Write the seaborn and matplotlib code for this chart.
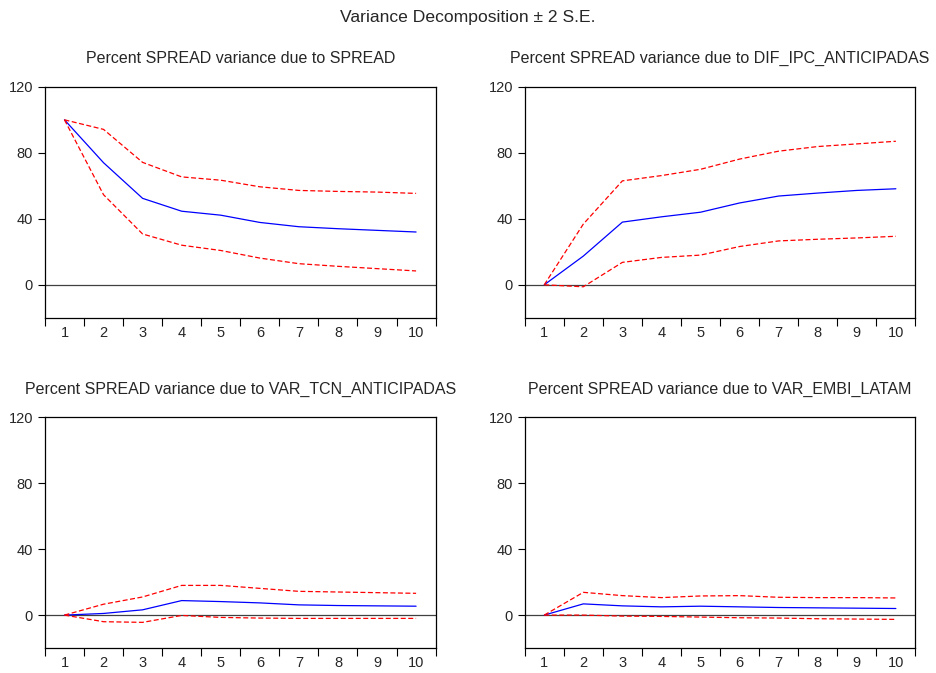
import pandas as pd
import numpy as np
import matplotlib.pyplot as plt
import seaborn as sns
from matplotlib.ticker import FixedLocator

periodos = list(range(1, 11))

titulos = ["Percent SPREAD variance due to SPREAD",
           "Percent SPREAD variance due to DIF_IPC_ANTICIPADAS",
           "Percent SPREAD variance due to VAR_TCN_ANTICIPADAS",
           "Percent SPREAD variance due to VAR_EMBI_LATAM"]

# estimacion central y bandas +/- 2 S.E.
spread_c = [100, 74, 52.4, 44.6, 42.2, 37.8, 35.2, 34, 33, 32]
spread_u = [100, 94.2, 74.2, 65.4, 63.4, 59.4, 57.2, 56.6, 56.2, 55.4]
spread_l = [100, 54.6, 30.8, 24, 20.8, 16.2, 12.8, 11.2, 9.8, 8.4]

ipc_c = [0, 17.4, 38, 41.2, 44, 49.6, 53.8, 55.6, 57.2, 58.2]
ipc_u = [0, 36.8, 63, 66.2, 70, 76.2, 81, 83.8, 85.4, 87]
ipc_l = [0, -1.2, 13.6, 16.6, 18, 23.2, 26.6, 27.6, 28.4, 29.4]

tcn_c = [0, 1, 3.2, 8.8, 8.2, 7.4, 6.2, 5.8, 5.6, 5.4]
tcn_u = [0, 6.6, 11, 18, 18, 16.2, 14.4, 14, 13.6, 13.2]
tcn_l = [0, -4, -4.4, -0.2, -1.4, -1.8, -2, -2, -2, -2]

embi_c = [0, 6.8, 5.6, 5, 5.4, 5, 4.6, 4.4, 4.2, 4]
embi_u = [0, 13.8, 11.8, 10.6, 11.6, 11.8, 10.8, 10.6, 10.6, 10.4]
embi_l = [0, 0, -0.6, -0.8, -1.2, -1.6, -1.8, -2.2, -2.4, -2.6]

series = [(spread_c, spread_u, spread_l),
          (ipc_c, ipc_u, ipc_l),
          (tcn_c, tcn_u, tcn_l),
          (embi_c, embi_u, embi_l)]

sns.set_style("white")
plt.rcParams['font.family'] = ['Liberation Sans', 'DejaVu Sans']

fig, axes = plt.subplots(2, 2, figsize=(9.36, 6.73), dpi=100)
fig.subplots_adjust(left=0.048, right=0.978, top=0.871, bottom=0.037,
                    wspace=0.228, hspace=0.43)

for ax, titulo, (c, u, l) in zip(axes.flat, titulos, series):
    df = pd.DataFrame({'Periodo': periodos * 3,
                       'Valor': c + u + l,
                       'Serie': ['c'] * 10 + ['u'] * 10 + ['l'] * 10})
    ax.axhline(0, color='#404040', linewidth=0.9, zorder=1)
    sns.lineplot(data=df, x='Periodo', y='Valor', hue='Serie', style='Serie',
                 palette={'c': '#0000ff', 'u': '#ff0000', 'l': '#ff0000'},
                 dashes={'c': '', 'u': (4, 2), 'l': (4, 2)},
                 linewidth=0.9, legend=False, ax=ax)
    ax.set_xlim(0.5, 10.5)
    ax.set_ylim(-20, 120)
    ax.set_yticks([0, 40, 80, 120])
    ax.set_xticks(periodos)
    ax.xaxis.set_minor_locator(FixedLocator(np.arange(0.5, 11, 1)))
    ax.tick_params(axis='x', which='major', length=0, pad=6, labelsize=10.5)
    ax.tick_params(axis='x', which='minor', length=6, width=0.8, direction='out', color='black', bottom=True)
    ax.tick_params(axis='y', which='major', length=5, width=0.8, direction='out', color='black', left=True, labelsize=10.5)
    ax.set_xlabel('')
    ax.set_ylabel('')
    for s in ax.spines.values():
        s.set_color('black')
        s.set_linewidth(0.9)
    ax.set_title(titulo, fontsize=11.5, pad=17)

fig.suptitle("Variance Decomposition ± 2 S.E.", fontsize=12.6, y=0.985)

plt.savefig('out.png', dpi=100)
